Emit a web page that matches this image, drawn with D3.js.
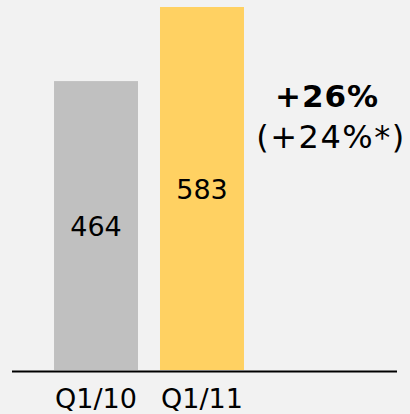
<!DOCTYPE html>
<html>
<head>
<meta charset="utf-8">
<script src="https://cdn.jsdelivr.net/npm/d3@7"></script>
<style>
  body { margin: 0; background: #f2f2f2; }
  svg { display: block; }
  text { font-family: "DejaVu Sans", sans-serif; fill: #000; }
</style>
</head>
<body>
<svg id="chart" width="410" height="414"></svg>
<script>
var categories = ["Q1/10", "Q1/11"]
var values = [464, 583]
var barColors = ["#c0c0c0", "#ffd162"]
var growthMain = "+26%"
var growthNote = "(+24%*)"

var svg = d3.select('#chart')

// band scale so bars land at ~54-138 and ~160-244
var x = d3.scaleBand()
  .domain(categories)
  .range([43, 255])
  .paddingInner(0.2075)
  .paddingOuter(0.104)

var y = d3.scaleLinear()
  .domain([0, d3.max(values)])
  .range([370, 7])

var data = categories.map((c, i) => ({cat: c, value: values[i], color: barColors[i]}))

svg.append("g")
  .selectAll("rect")
  .data(data)
  .join("rect")
  .attr("x", d => x(d.cat))
  .attr("y", d => y(d.value))
  .attr("width", x.bandwidth())
  .attr("height", d => y(0) - y(d.value))
  .attr("fill", d => d.color)

// value labels, centered in each bar
svg.append("g")
  .selectAll("text")
  .data(data)
  .join("text")
  .attr("x", d => x(d.cat) + x.bandwidth() / 2)
  .attr("y", d => (y(d.value) + y(0)) / 2 + 10)
  .attr("text-anchor", "middle")
  .style("font-size", "27px")
  .text(d => d.value)

// baseline
svg.append("line")
  .attr("x1", 12).attr("x2", 397)
  .attr("y1", 371.5).attr("y2", 371.5)
  .attr("stroke", "#000")
  .attr("stroke-width", 2)

// category labels
var xAxis = d3.axisBottom(x).tickSize(0).tickPadding(0)
var axisG = svg.append("g")
  .attr("transform", "translate(0,372)")
  .call(xAxis)
axisG.select(".domain").remove()
axisG.selectAll("text")
  .attr("y", 36)
  .attr("dy", null)
  .style("font-size", "27px")
  .style("font-family", "DejaVu Sans, sans-serif")
  .attr("fill", "#000")

// growth annotation
svg.append("text")
  .attr("x", 327).attr("y", 107)
  .attr("text-anchor", "middle")
  .style("font-size", "31px")
  .style("font-weight", "bold")
  .style("letter-spacing", "1px")
  .text(growthMain)

svg.append("text")
  .attr("x", 331).attr("y", 148)
  .attr("text-anchor", "middle")
  .style("font-size", "32px")
  .style("letter-spacing", "1.5px")
  .text(growthNote)
</script>
</body>
</html>
